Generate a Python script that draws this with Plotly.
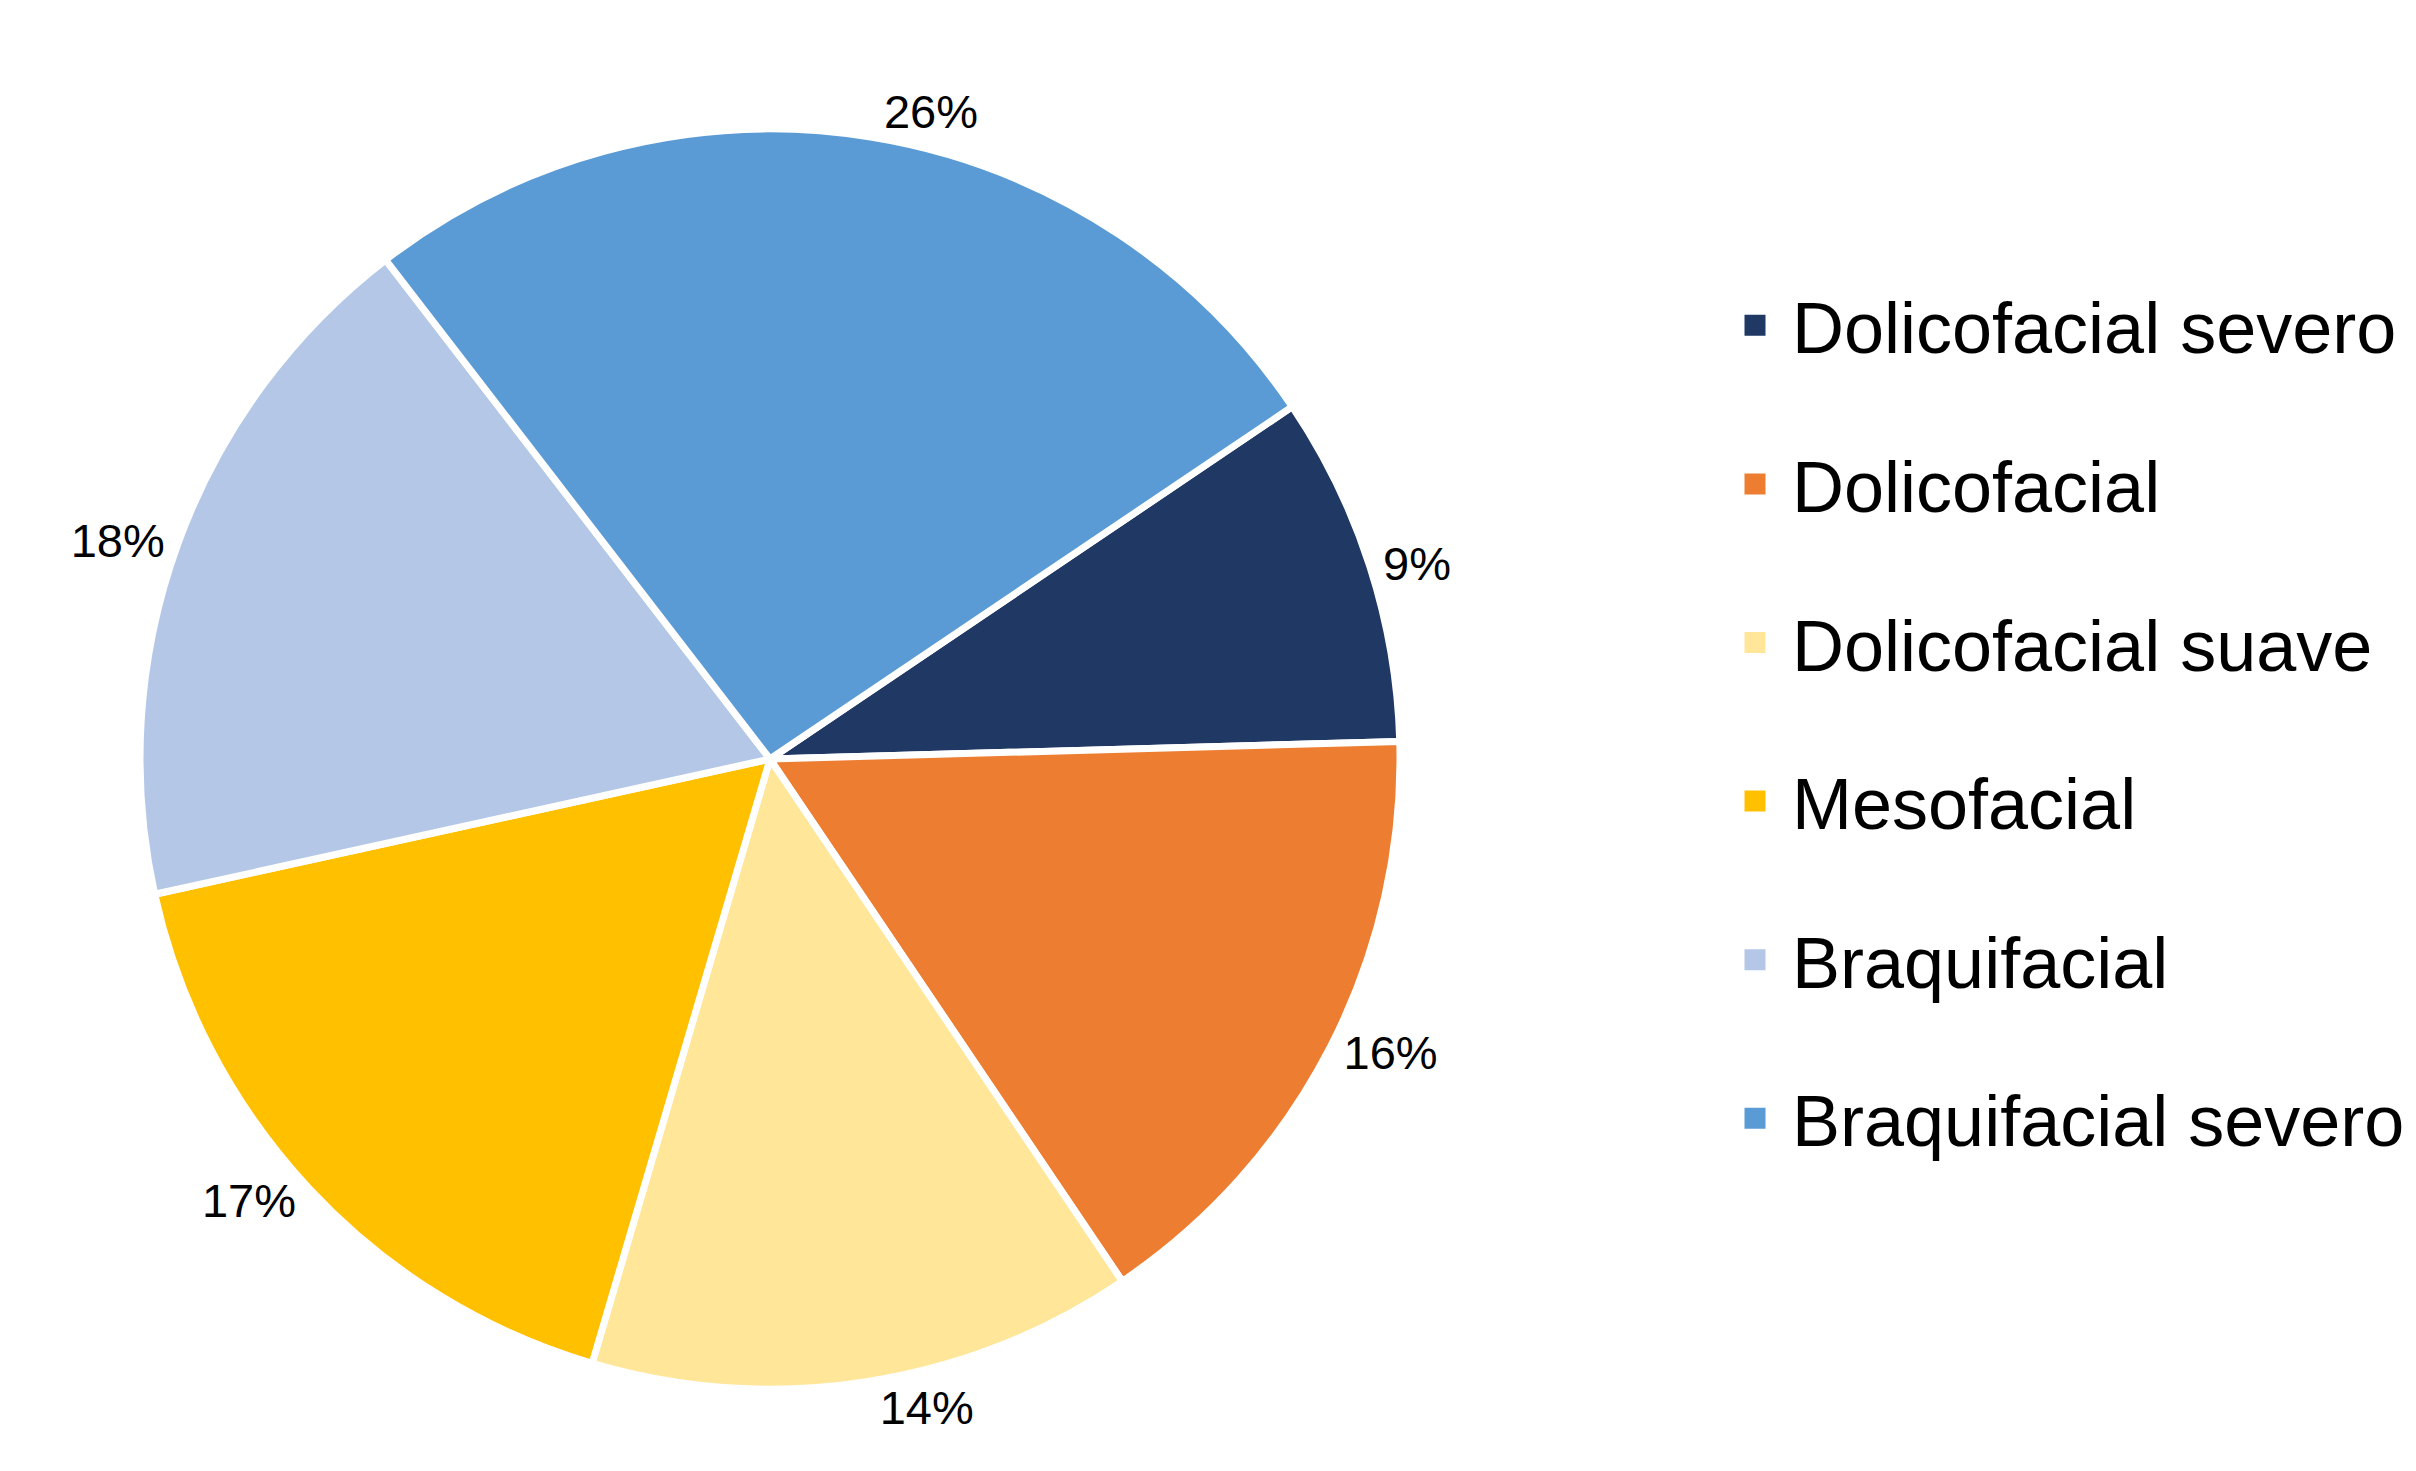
import plotly.graph_objects as go

categories = ["Dolicofacial severo", "Dolicofacial", "Dolicofacial suave",
              "Mesofacial", "Braquifacial", "Braquifacial severo"]
values = [9, 16, 14, 17, 18, 26]
colors = ["#203864", "#ED7D31", "#FFE699", "#FFC000", "#B4C7E7", "#5B9BD5"]

W, H = 2416, 1471
cx, cy, r = 762, 751, 630

fig = go.Figure()
fig.add_trace(go.Pie(
    labels=categories, values=values, sort=False, direction="clockwise",
    rotation=56,
    marker=dict(colors=colors, line=dict(color="white", width=7)),
    textposition="outside", texttemplate="%{percent:.0%}",
    textfont=dict(family="Liberation Sans", size=47, color="black"),
    showlegend=False, hoverinfo="label+percent",
    domain=dict(x=[(cx - r) / W, (cx + r) / W],
                y=[(H - cy - r) / H, (H - cy + r) / H]),
))

# legend entries (no drawn marks)
for name, col in zip(categories, colors):
    fig.add_trace(go.Scatter(
        x=[None], y=[None], mode="markers", name=name, legendgroup=name,
        marker=dict(symbol="square", size=16, color=col,
                    line=dict(color=col, width=7)),
        showlegend=True, hoverinfo="skip",
    ))

fig.update_layout(
    width=W, height=H,
    margin=dict(l=0, r=0, t=0, b=0),
    paper_bgcolor="white", plot_bgcolor="white",
    xaxis=dict(visible=False), yaxis=dict(visible=False),
    legend=dict(
        x=1710 / W, xanchor="left", y=(H - 714) / H, yanchor="middle",
        font=dict(family="Liberation Sans", size=72, color="black"),
        tracegroupgap=62, itemsizing="trace", itemwidth=64,
        bgcolor="rgba(0,0,0,0)",
    ),
    font=dict(family="Liberation Sans"),
)

fig.write_html("out.html")
